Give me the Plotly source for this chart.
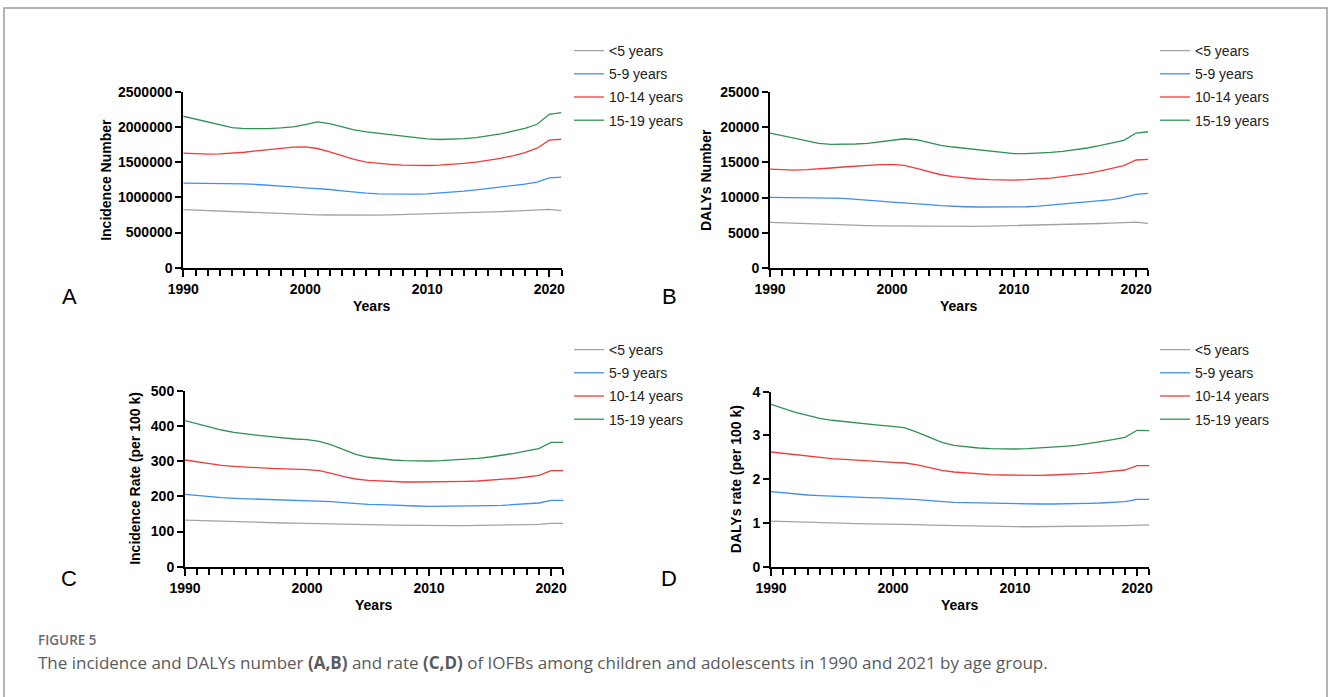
import plotly.graph_objects as go

W, H = 1328, 697

years = list(range(1990, 2022))
age_groups = ["<5 years", "5-9 years", "10-14 years", "15-19 years"]

# Panel A: Incidence Number
A_lt5 = [825000, 818000, 810000, 803000, 796000, 788000, 780000, 772000, 765000, 760000, 755000, 752000, 750000, 748000, 747000, 747000, 749000, 752000, 756000, 761000, 766000, 771000, 776000, 781000, 786000, 792000, 798000, 806000, 814000, 820000, 830000, 812000]
A_5_9 = [1203000, 1203000, 1202000, 1201000, 1199000, 1193000, 1184000, 1175000, 1165000, 1151000, 1136000, 1127000, 1113000, 1094000, 1075000, 1061000, 1051000, 1047000, 1047000, 1047000, 1051000, 1061000, 1075000, 1089000, 1108000, 1127000, 1146000, 1165000, 1189000, 1217000, 1278000, 1288000]
A_10_14 = [1629000, 1619000, 1615000, 1619000, 1629000, 1643000, 1662000, 1682000, 1700000, 1715000, 1719000, 1696000, 1648000, 1591000, 1540000, 1502000, 1483000, 1469000, 1459000, 1454000, 1454000, 1459000, 1469000, 1483000, 1502000, 1525000, 1554000, 1591000, 1639000, 1700000, 1814000, 1828000]
A_15_19 = [2155000, 2112000, 2069000, 2027000, 1994000, 1980000, 1975000, 1980000, 1989000, 2003000, 2037000, 2074000, 2051000, 2003000, 1960000, 1932000, 1913000, 1895000, 1871000, 1847000, 1833000, 1824000, 1828000, 1838000, 1852000, 1875000, 1904000, 1942000, 1984000, 2041000, 2183000, 2208000]

# Panel B: DALYs Number
B_lt5 = [6470, 6400, 6330, 6260, 6200, 6140, 6080, 6030, 5990, 5960, 5940, 5920, 5900, 5880, 5860, 5860, 5870, 5900, 5930, 5960, 5990, 6030, 6070, 6110, 6150, 6190, 6240, 6300, 6350, 6400, 6490, 6330]
B_5_9 = [10030, 10030, 10020, 10000, 9970, 9930, 9890, 9790, 9650, 9500, 9360, 9260, 9120, 8980, 8840, 8740, 8690, 8650, 8650, 8650, 8650, 8690, 8790, 8930, 9080, 9220, 9360, 9550, 9690, 10030, 10460, 10600]
B_10_14 = [14060, 13970, 13920, 13970, 14060, 14210, 14350, 14490, 14590, 14680, 14730, 14590, 14160, 13680, 13250, 12970, 12780, 12640, 12540, 12490, 12490, 12540, 12640, 12780, 12970, 13160, 13450, 13780, 14160, 14540, 15350, 15440]
B_15_19 = [19190, 18810, 18380, 18000, 17720, 17580, 17580, 17630, 17720, 17910, 18150, 18380, 18240, 17810, 17430, 17200, 17010, 16770, 16530, 16340, 16250, 16250, 16300, 16440, 16580, 16770, 17060, 17390, 17720, 18150, 19190, 19380]

# Panel C: Incidence Rate (per 100 k)
C_lt5 = [132.8, 131.5, 130.3, 129.1, 127.9, 126.8, 125.8, 125.0, 124.3, 123.8, 123.4, 122.8, 121.9, 120.9, 120.1, 119.6, 119.0, 118.4, 117.8, 117.2, 116.9, 116.7, 116.8, 117.0, 117.2, 117.6, 118.1, 118.8, 119.6, 120.6, 123.4, 123.4]
C_5_9 = [206.0, 202.1, 198.3, 196.4, 194.6, 193.6, 192.7, 191.7, 190.8, 189.8, 187.9, 186.9, 185.0, 182.2, 179.4, 177.5, 176.6, 174.7, 173.7, 172.8, 171.8, 171.8, 171.8, 171.8, 172.8, 173.7, 174.7, 176.6, 178.4, 181.3, 188.9, 188.9]
C_10_14 = [303.7, 298.0, 292.3, 288.6, 285.7, 282.9, 281.8, 280.0, 279.0, 277.2, 276.1, 273.2, 265.8, 256.2, 249.6, 245.9, 243.9, 241.9, 241.0, 241.0, 241.0, 241.0, 241.9, 243.0, 243.9, 245.9, 248.7, 251.6, 255.3, 260.1, 273.2, 273.2]
C_15_19 = [415.5, 406.0, 396.6, 389.0, 382.5, 377.6, 373.9, 370.0, 366.2, 363.4, 361.5, 356.8, 346.4, 332.0, 319.8, 311.4, 306.6, 303.7, 301.7, 300.8, 300.8, 301.7, 303.7, 305.6, 308.5, 312.2, 317.0, 322.7, 329.3, 335.8, 354.0, 354.0]

# Panel D: DALYs rate (per 100 k)
D_lt5 = [1.040, 1.030, 1.020, 1.010, 1.000, 0.995, 0.990, 0.985, 0.980, 0.978, 0.975, 0.970, 0.960, 0.950, 0.943, 0.937, 0.930, 0.925, 0.920, 0.916, 0.914, 0.913, 0.914, 0.916, 0.918, 0.922, 0.926, 0.930, 0.935, 0.940, 0.955, 0.955]
D_5_9 = [1.715, 1.685, 1.662, 1.639, 1.623, 1.609, 1.601, 1.586, 1.578, 1.571, 1.563, 1.548, 1.532, 1.509, 1.486, 1.471, 1.463, 1.456, 1.448, 1.441, 1.433, 1.433, 1.433, 1.433, 1.433, 1.441, 1.448, 1.456, 1.471, 1.486, 1.540, 1.540]
D_10_14 = [2.622, 2.592, 2.553, 2.523, 2.492, 2.469, 2.454, 2.431, 2.416, 2.400, 2.386, 2.370, 2.325, 2.263, 2.203, 2.165, 2.142, 2.119, 2.103, 2.096, 2.088, 2.088, 2.088, 2.096, 2.103, 2.119, 2.134, 2.157, 2.180, 2.210, 2.309, 2.309]
D_15_19 = [3.712, 3.621, 3.530, 3.461, 3.392, 3.347, 3.315, 3.285, 3.255, 3.232, 3.209, 3.171, 3.072, 2.949, 2.843, 2.775, 2.736, 2.713, 2.698, 2.690, 2.690, 2.698, 2.713, 2.729, 2.752, 2.775, 2.812, 2.857, 2.903, 2.957, 3.118, 3.110]

y_titles = ["Incidence Number", "DALYs Number", "Incidence Rate (per 100 k)", "DALYs rate (per 100 k)"]
y_max = [2500000, 25000, 500, 4]
y_dtick = [500000, 5000, 100, 1]
panel_letters = ["A", "B", "C", "D"]
x_tickvals = [1990, 2000, 2010, 2020]

colors = ["#a3a3a3", "#3f8ef2", "#f23b3b", "#2f9252"]

panels = [
    [A_lt5, A_5_9, A_10_14, A_15_19],
    [B_lt5, B_5_9, B_10_14, B_15_19],
    [C_lt5, C_5_9, C_10_14, C_15_19],
    [D_lt5, D_5_9, D_10_14, D_15_19],
]

# layout geometry in pixels (x0, x1, ytop, ybottom)
geom = [
    (183.3, 561.5, 92.0, 267.7),
    (770.0, 1148.3, 92.3, 267.7),
    (185.0, 563.3, 391.0, 566.7),
    (771.0, 1149.3, 391.7, 566.7),
]
ytitle_x = [106, 706, 135, 736]
legend_pos = [(569, 35), (1155, 35), (569, 334), (1155, 334)]
letter_pos = [(69, 296), (669, 296), (69, 578), (669, 578)]


def px(x):
    return x / W


def py(y):
    return 1 - y / H


FONT = "Arial, 'Liberation Sans', Helvetica, sans-serif"
BOLD_SIZE = 14

fig = go.Figure()
annotations = []
layout = {}

for i, series in enumerate(panels):
    k = "" if i == 0 else str(i + 1)
    lg = "legend" if i == 0 else f"legend{i + 1}"
    for j, vals in enumerate(series):
        fig.add_trace(go.Scatter(
            x=years, y=vals, mode="lines", name=age_groups[j],
            line=dict(color=colors[j], width=1.3),
            xaxis=f"x{k}", yaxis=f"y{k}", legend=lg,
            legendgroup=f"{panel_letters[i]}{j}",
            hoverinfo="x+y+name",
        ))
    x0, x1, yt, yb = geom[i]
    layout[f"xaxis{k}"] = dict(
        domain=[px(x0), px(x1)], anchor=f"y{k}", range=[1990, 2021],
        tickvals=x_tickvals, ticks="outside", ticklen=7, tickwidth=2, tickcolor="black",
        minor=dict(dtick=1, tick0=1990, ticks="outside", ticklen=6, tickwidth=2, tickcolor="black"),
        showline=True, linecolor="black", linewidth=2, showgrid=False, zeroline=False,
        tickfont=dict(family=FONT, size=BOLD_SIZE, color="black", weight="bold"),
        automargin=False, fixedrange=True,
    )
    layout[f"yaxis{k}"] = dict(
        domain=[py(yb), py(yt)], anchor=f"x{k}", range=[0, y_max[i]],
        dtick=y_dtick[i], tick0=0, tickformat="d", ticks="outside", ticklen=6, tickwidth=2,
        tickcolor="black", showline=True, linecolor="black", linewidth=2,
        showgrid=False, zeroline=False,
        tickfont=dict(family=FONT, size=BOLD_SIZE, color="black", weight="bold"),
        automargin=False, fixedrange=True,
    )
    lx, ly = legend_pos[i]
    layout[lg] = dict(
        x=px(lx), y=py(ly), xanchor="left", yanchor="top",
        bgcolor="rgba(0,0,0,0)", borderwidth=0, tracegroupgap=2,
        font=dict(family=FONT, size=14, color="#222222"),
        traceorder="grouped",
    )
    # y-axis title
    annotations.append(dict(
        text=y_titles[i], x=px(ytitle_x[i]), y=py((yt + yb) / 2), xref="paper", yref="paper",
        textangle=-90, showarrow=False, xanchor="center", yanchor="middle",
        font=dict(family=FONT, size=BOLD_SIZE, color="black", weight="bold"),
    ))
    # x-axis title
    annotations.append(dict(
        text="Years", x=px((x0 + x1) / 2 - 0.5), y=py(yb + 38), xref="paper", yref="paper",
        showarrow=False, xanchor="center", yanchor="middle",
        font=dict(family=FONT, size=BOLD_SIZE, color="black", weight="bold"),
    ))
    # panel letter
    lx2, ly2 = letter_pos[i]
    annotations.append(dict(
        text=panel_letters[i], x=px(lx2), y=py(ly2), xref="paper", yref="paper",
        showarrow=False, xanchor="center", yanchor="middle",
        font=dict(family=FONT, size=22, color="black"),
    ))

# caption
CAP_FONT = "'Open Sans', Lato, sans-serif"
annotations.append(dict(
    text="FIGURE 5", x=px(36), y=py(640), xref="paper", yref="paper",
    showarrow=False, xanchor="left", yanchor="middle",
    font=dict(family=CAP_FONT, size=13.5, color="#6b6b6b", weight=600),
))
annotations.append(dict(
    text="The incidence and DALYs number <b>(A,B)</b> and rate <b>(C,D)</b> of IOFBs among children and adolescents in 1990 and 2021 by age group.",
    x=px(36), y=py(662), xref="paper", yref="paper",
    showarrow=False, xanchor="left", yanchor="middle",
    font=dict(family=CAP_FONT, size=17, color="#5a5a5a"),
))

shapes = [dict(
    type="rect", xref="paper", yref="paper",
    x0=px(4), x1=px(1327), y0=py(700), y1=py(8),
    line=dict(color="#9a9a9a", width=1.5), fillcolor="rgba(0,0,0,0)", layer="below",
)]

fig.update_layout(
    width=W, height=H, autosize=False,
    margin=dict(l=0, r=0, t=0, b=0, pad=0, autoexpand=False),
    paper_bgcolor="white", plot_bgcolor="white",
    annotations=annotations, shapes=shapes,
    showlegend=True,
    **layout,
)

fig.write_html(
    "out.html",
    config={"displayModeBar": False},
    post_script="document.body.style.margin='0';document.body.style.padding='0';document.body.style.overflow='hidden';",
)
